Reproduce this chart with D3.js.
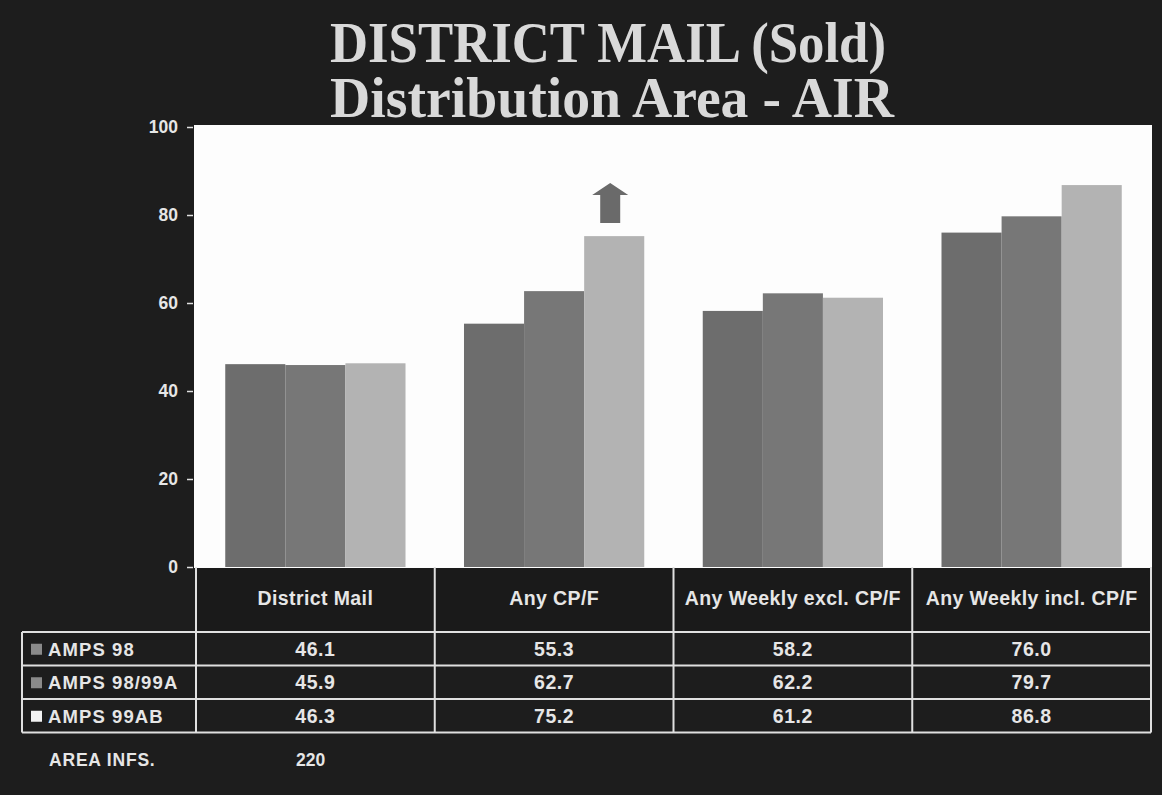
<!DOCTYPE html>
<html>
<head>
<meta charset="utf-8">
<script src="https://cdn.jsdelivr.net/npm/d3@7"></script>
<style>
  html, body { margin: 0; padding: 0; background: #1c1c1c; }
  svg { display: block; }
</style>
</head>
<body>
<svg id="chart" width="1162" height="795"></svg>
<script>
// ---- data ----
const categories = ["District Mail", "Any CP/F", "Any Weekly excl. CP/F", "Any Weekly incl. CP/F"];
const seriesNames = ["AMPS 98", "AMPS 98/99A", "AMPS 99AB"];
const amps98    = [46.1, 55.3, 58.2, 76.0];
const amps9899A = [45.9, 62.7, 62.2, 79.7];
const amps99AB  = [46.3, 75.2, 61.2, 86.8];
const yTicks = [0, 20, 40, 60, 80, 100];
const titleLines = ["DISTRICT MAIL (Sold)", "Distribution Area - AIR"];
const footLabel = "AREA INFS.";
const footValue = "220";

const seriesValues = [amps98, amps9899A, amps99AB];
const barColors = ["#6d6d6d", "#777777", "#b3b3b3"];
const swatchColors = ["#8a8a8a", "#8a8a8a", "#f2f2f2"];

// ---- layout ----
const svg = d3.select("#chart");
const W = 1162, H = 795;
const plotL = 194, plotR = 1152;
const tableL = 196, tableR = 1151;
const y0 = 567, y100 = 127;
const headerBottom = 632;
const rowH = 33.5;
const outerL = 22;
const textCol = "#e6e6e6";
const lineCol = "#e0e0e0";
const font = "Liberation Sans, Arial, sans-serif";

svg.append("rect").attr("width", W).attr("height", H).attr("fill", "#1d1d1d");

// title (one text element, two lines)
const title = svg.append("text")
  .attr("font-family", "Liberation Serif, Times New Roman, serif")
  .attr("font-weight", "bold")
  .attr("font-size", 57).attr("fill", "#d9d9d9");
title.append("tspan").text(titleLines[0])
  .attr("x", 330).attr("y", 62)
  .attr("textLength", 556).attr("lengthAdjust", "spacingAndGlyphs");
title.append("tspan").text(titleLines[1])
  .attr("x", 330).attr("y", 117)
  .attr("textLength", 564).attr("lengthAdjust", "spacingAndGlyphs");

// scales
const y = d3.scaleLinear().domain([0, 100]).range([y0, y100]);
const x0 = d3.scaleBand().domain(categories).range([tableL, tableR])
  .paddingInner(0.245).paddingOuter(0.1225);
const x1 = d3.scaleBand().domain(seriesNames).range([0, x0.bandwidth()]).padding(0);
const col = d3.scaleBand().domain(categories).range([tableL, tableR]).padding(0);

// plot area
svg.append("rect")
  .attr("x", plotL).attr("y", y(100) - 2)
  .attr("width", plotR - plotL).attr("height", y0 - (y(100) - 2) + 1)
  .attr("fill", "#fdfdfd");

// bars
const groups = svg.append("g").selectAll("g")
  .data(categories).join("g")
  .attr("transform", d => `translate(${x0(d)},0)`);
groups.selectAll("rect")
  .data((c, ci) => seriesNames.map((s, si) => ({ s, si, v: seriesValues[si][ci] })))
  .join("rect")
  .attr("x", d => x1(d.s))
  .attr("y", d => y(d.v))
  .attr("width", x1.bandwidth())
  .attr("height", d => y(0) - y(d.v))
  .attr("fill", d => barColors[d.si]);

// upward arrow above AMPS 99AB bar of "Any CP/F"
{
  const cx = x0("Any CP/F") + x1("AMPS 99AB") + x1.bandwidth() / 2 - 4;
  const top = y(75.2) - 53;
  const bot = y(75.2) - 13;
  const arrow = d3.path();
  arrow.moveTo(cx, top);
  arrow.lineTo(cx + 18, top + 12);
  arrow.lineTo(cx + 10, top + 12);
  arrow.lineTo(cx + 10, bot);
  arrow.lineTo(cx - 10, bot);
  arrow.lineTo(cx - 10, top + 12);
  arrow.lineTo(cx - 18, top + 12);
  arrow.closePath();
  svg.append("path").attr("d", arrow.toString()).attr("fill", "#6a6a6a");
}

// y axis
const yAxis = svg.append("g")
  .attr("transform", `translate(${plotL - 1},0)`)
  .call(d3.axisLeft(y).tickValues(yTicks).tickSize(6).tickPadding(9));
yAxis.select(".domain").remove();
yAxis.selectAll(".tick line").attr("stroke", lineCol).attr("stroke-width", 1.5);
yAxis.selectAll(".tick text")
  .attr("fill", textCol).attr("font-family", font)
  .attr("font-weight", "bold").attr("font-size", 17.5);

// table
const tbl = svg.append("g");
tbl.append("rect").attr("x", tableL).attr("y", y0 + 1)
  .attr("width", tableR - tableL).attr("height", headerBottom - y0 - 1)
  .attr("fill", "#1a1a1a");

// header labels
tbl.selectAll("text.hdr").data(categories).join("text")
  .attr("class", "hdr")
  .attr("x", d => col(d) + col.bandwidth() / 2)
  .attr("y", 600)
  .attr("text-anchor", "middle").attr("dominant-baseline", "middle")
  .attr("fill", textCol).attr("font-family", font)
  .attr("font-weight", "bold").attr("font-size", 19.5)
  .attr("letter-spacing", 0.4)
  .text(d => d);

// grid lines
const lines = [];
[tableL, ...categories.map(c => col(c) + col.bandwidth())].forEach(xx => {
  lines.push([xx, y0, xx, headerBottom + rowH * 3]);
});
lines.push([outerL, headerBottom, outerL, headerBottom + rowH * 3]);
for (let r = 0; r <= 3; r++) {
  const yy = headerBottom + r * rowH;
  lines.push([outerL, yy, tableR, yy]);
}
tbl.selectAll("line").data(lines).join("line")
  .attr("x1", d => d[0]).attr("y1", d => d[1])
  .attr("x2", d => d[2]).attr("y2", d => d[3])
  .attr("stroke", lineCol).attr("stroke-width", 2);

// row legend + values
seriesNames.forEach((s, si) => {
  const cy = headerBottom + si * rowH + rowH / 2 + 1;
  tbl.append("rect").attr("x", 31).attr("y", cy - 6)
    .attr("width", 11).attr("height", 11).attr("fill", swatchColors[si]);
  tbl.append("text").text(s)
    .attr("x", 48).attr("y", cy + 1)
    .attr("dominant-baseline", "middle")
    .attr("fill", textCol).attr("font-family", font)
    .attr("font-weight", "bold").attr("font-size", 18.5)
    .attr("letter-spacing", 1.1);
  tbl.selectAll(null).data(categories).join("text")
    .attr("x", d => col(d) + col.bandwidth() / 2)
    .attr("y", cy + 1)
    .attr("text-anchor", "middle").attr("dominant-baseline", "middle")
    .attr("fill", textCol).attr("font-family", font)
    .attr("font-weight", "bold").attr("font-size", 19.5)
    .attr("letter-spacing", 0.6)
    .text((d, ci) => seriesValues[si][ci].toFixed(1));
});

// footer
svg.append("text").text(footLabel)
  .attr("x", 49).attr("y", 761).attr("dominant-baseline", "middle")
  .attr("fill", textCol).attr("font-family", font)
  .attr("font-weight", "bold").attr("font-size", 17.5).attr("letter-spacing", 0.8);
svg.append("text").text(footValue)
  .attr("x", 296).attr("y", 761).attr("dominant-baseline", "middle")
  .attr("fill", textCol).attr("font-family", font)
  .attr("font-weight", "bold").attr("font-size", 17.5);
</script>
</body>
</html>
